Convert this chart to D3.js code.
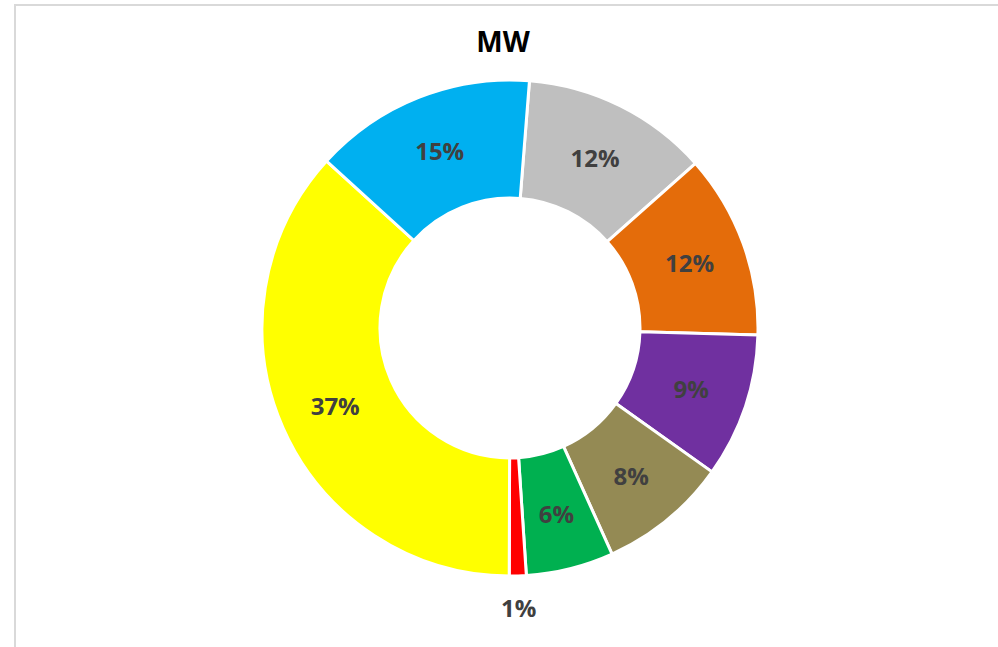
<!DOCTYPE html>
<html>
<head>
<meta charset="utf-8">
<script src="https://cdn.jsdelivr.net/npm/d3@7"></script>
<style>
  html, body { margin: 0; padding: 0; background: #ffffff; }
  svg { display: block; }
</style>
</head>
<body>
<svg id="chart" width="998" height="647"></svg>
<script>
// ---- data ----
const title = "MW";
const colors = ["#BFBFBF", "#E46C0A", "#7030A0", "#948A54", "#00B050", "#FF0000", "#FFFF00", "#00B0F0"];
const values = [12.2, 12.0, 9.4, 8.4, 5.7, 1.1, 36.7, 14.5];
const labels = ["12%", "12%", "9%", "8%", "6%", "1%", "37%", "15%"];
const outsideLabel = [false, false, false, false, false, true, false, false];

// ---- layout ----
const svg = d3.select("#chart");
const W = 998, H = 647;
const cx = 510, cy = 328;
const rOuter = 248, rInner = 130;
const startDeg = 4.5;

// frame
svg.append("rect")
  .attr("x", 15).attr("y", 5)
  .attr("width", W + 20).attr("height", H + 20)
  .attr("fill", "none")
  .attr("stroke", "#d9d9d9")
  .attr("stroke-width", 2);

// title
svg.append("text")
  .attr("x", 503).attr("y", 52)
  .attr("text-anchor", "middle")
  .attr("font-family", "'Open Sans', sans-serif")
  .attr("font-weight", "bold")
  .attr("font-size", 28)
  .attr("fill", "#000000")
  .text(title);

const a0 = startDeg * Math.PI / 180;
const pie = d3.pie().sort(null).value(d => d).startAngle(a0).endAngle(a0 + 2 * Math.PI);
const arcs = pie(values);
const arc = d3.arc().innerRadius(rInner).outerRadius(rOuter);
const labelArc = d3.arc().innerRadius(191).outerRadius(191);
const outArc = d3.arc().innerRadius(280).outerRadius(280);

const g = svg.append("g").attr("transform", `translate(${cx},${cy})`);

g.selectAll("path.slice")
  .data(arcs)
  .join("path")
  .attr("class", "slice")
  .attr("d", arc)
  .attr("fill", (d, i) => colors[i])
  .attr("stroke", "#ffffff")
  .attr("stroke-width", 3)
  .attr("stroke-linejoin", "round");

g.selectAll("text.lbl")
  .data(arcs)
  .join("text")
  .attr("class", "lbl")
  .attr("transform", (d, i) => `translate(${(outsideLabel[i] ? outArc : labelArc).centroid(d)})`)
  .attr("text-anchor", "middle")
  .attr("dy", "0.4em")
  .attr("font-family", "'Open Sans', sans-serif")
  .attr("font-weight", "bold")
  .attr("font-size", 24)
  .attr("fill", "#404040")
  .text((d, i) => labels[i]);
</script>
</body>
</html>
